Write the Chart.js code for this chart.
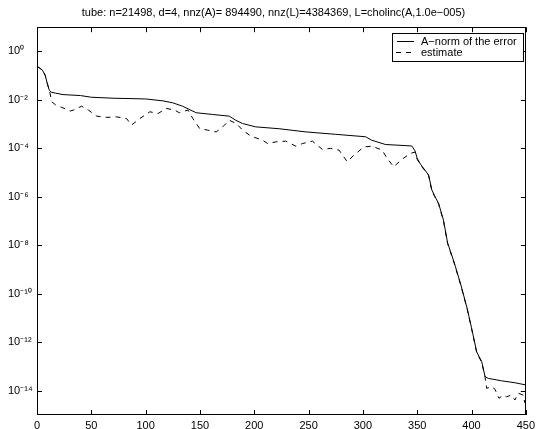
<!DOCTYPE html>
<html><head><meta charset="utf-8">
<script src="https://cdn.jsdelivr.net/npm/chart.js@4/dist/chart.umd.min.js"></script>
<style>html,body{margin:0;padding:0;background:#fff}</style>
</head><body>
<canvas id="c" width="539" height="429"></canvas>
<script>
const titleText = "tube: n=21498, d=4, nnz(A)= 894490, nnz(L)=4384369, L=cholinc(A,1.0e\u2212005)";
const legendLabels = ["A\u2212norm of the error", "estimate"];
const xTicks = [0, 50, 100, 150, 200, 250, 300, 350, 400, 450];
const yTickExponents = [0, -2, -4, -6, -8, -10, -12, -14];

// A-norm of the error: iteration and log10(value)
const errorIter = [0, 5, 7.5, 9.4, 11.3, 13, 17, 24, 40, 50, 70, 100, 116, 125, 134, 140, 146.6, 161.6, 177, 183, 189, 201, 223, 247.5, 275, 302.5, 308, 320.8, 345, 348, 350, 353, 360.5, 363.5, 366, 369.7, 374.2, 378, 384, 390, 396, 400, 404.8, 409.4, 412.5, 415.5, 427.7, 440, 450];
const errorLog10 = [-0.61, -0.77, -0.98, -1.31, -1.6, -1.68, -1.72, -1.78, -1.82, -1.89, -1.93, -1.96, -2.04, -2.12, -2.26, -2.39, -2.53, -2.6, -2.67, -2.84, -2.97, -3.11, -3.19, -3.32, -3.42, -3.52, -3.66, -3.84, -3.9, -4.1, -4.41, -4.65, -5.1, -5.72, -5.95, -6.27, -6.96, -7.9, -8.7, -9.6, -10.6, -11.4, -12.4, -12.8, -13.42, -13.49, -13.59, -13.67, -13.76];

// estimate: iteration and log10(value)
const estimateIter = [0, 5, 7.5, 9.4, 11.3, 13.7, 17, 22.9, 30.5, 33.6, 41, 47.3, 55, 64.2, 73.3, 82.5, 87, 94.7, 103.9, 111.5, 119, 126.8, 131, 139, 143.5, 149.7, 157.3, 165, 171, 177, 183.3, 189.4, 195.5, 198.5, 207.7, 212.3, 220, 229, 238.3, 244.4, 253.5, 262.7, 270.4, 278, 285.6, 291.7, 300.9, 308.5, 317.7, 322.3, 328.4, 336, 343.7, 348, 350, 353, 360.5, 363.5, 366, 369.7, 374.2, 378, 384, 390, 396, 400, 404.8, 409.4, 412.5, 414, 418.5, 421.6, 425.3, 429.2, 432.3, 436.3, 440, 443, 447.6, 449, 450];
const estimateLog10 = [-0.61, -0.77, -0.98, -1.31, -1.6, -2.08, -2.2, -2.31, -2.46, -2.42, -2.26, -2.42, -2.67, -2.72, -2.7, -2.77, -3.04, -2.77, -2.49, -2.56, -2.35, -2.42, -2.53, -2.42, -2.77, -3.18, -3.25, -3.32, -3.11, -2.84, -2.97, -3.25, -3.45, -3.52, -3.66, -3.8, -3.73, -3.7, -3.91, -3.8, -3.7, -4.04, -4.0, -4.07, -4.55, -4.28, -3.94, -3.91, -4.07, -4.41, -4.76, -4.45, -4.21, -4.15, -4.45, -4.68, -5.12, -5.75, -5.98, -6.3, -7.0, -7.93, -8.73, -9.63, -10.63, -11.43, -12.43, -12.83, -13.45, -13.9, -13.83, -13.94, -14.31, -14.18, -14.25, -14.18, -14.38, -14.1, -14.18, -14.49, -14.04];

const FONT = "'Liberation Sans', Arial, Helvetica, sans-serif";
const SUP = {"0":"\u2070","1":"\u00b9","2":"\u00b2","3":"\u00b3","4":"\u2074","5":"\u2075","6":"\u2076","7":"\u2077","8":"\u2078","9":"\u2079","-":"\u207b"};
function supText(n){ return String(n).split("").map(c => SUP[c]).join(""); }

const toPoints = (xs, ls) => xs.map((x, i) => ({x: x, y: Math.pow(10, ls[i])}));

const framePlugin = {
  id: "frame",
  afterLayout(chart) {
    if (chart.titleBlock) { chart.titleBlock.left = 19; chart.titleBlock.right = 528; }
  },
  afterDatasetsDraw(chart) {
    const {ctx, chartArea: {left, right, top, bottom}, scales: {x, y}} = chart;
    ctx.save();
    ctx.strokeStyle = "#000";
    ctx.lineWidth = 1;
    ctx.setLineDash([]);
    ctx.strokeRect(Math.round(left) + 0.5, Math.round(top) + 0.5, Math.round(right - left) - 1, Math.round(bottom - top) - 1);
    const tl = 5;
    ctx.beginPath();
    xTicks.forEach(v => {
      const px = Math.round(x.getPixelForValue(v)) + 0.5;
      ctx.moveTo(px, bottom); ctx.lineTo(px, bottom - tl);
      ctx.moveTo(px, top); ctx.lineTo(px, top + tl);
    });
    yTickExponents.forEach(e => {
      const py = Math.round(y.getPixelForValue(Math.pow(10, e))) + 0.5;
      ctx.moveTo(left, py); ctx.lineTo(left + tl, py);
      ctx.moveTo(right, py); ctx.lineTo(right - tl, py);
    });
    ctx.stroke();
    // legend
    const lx0 = 392, ly0 = 33, lw = 131, lh = 28;
    ctx.fillStyle = "#fff";
    ctx.fillRect(lx0, ly0, lw, lh);
    ctx.strokeRect(lx0 + 0.5, ly0 + 0.5, lw, lh);
    ctx.beginPath();
    ctx.moveTo(397, 41.5); ctx.lineTo(414, 41.5);
    ctx.stroke();
    ctx.setLineDash([5, 5]);
    ctx.beginPath();
    ctx.moveTo(396, 52.5); ctx.lineTo(414, 52.5);
    ctx.stroke();
    ctx.setLineDash([]);
    ctx.fillStyle = "#000";
    ctx.font = "11px " + FONT;
    ctx.textBaseline = "middle";
    ctx.textAlign = "left";
    ctx.fillText(legendLabels[0], 421, 41.5);
    ctx.fillText(legendLabels[1], 421, 53);
    ctx.restore();
  }
};

new Chart(document.getElementById("c"), {
  type: "line",
  data: {
    datasets: [
      {label: legendLabels[0], data: toPoints(errorIter, errorLog10), borderColor: "#000", borderWidth: 1, pointRadius: 0, tension: 0, fill: false},
      {label: legendLabels[1], data: toPoints(estimateIter, estimateLog10), borderColor: "#000", borderWidth: 1, borderDash: [5, 5], pointRadius: 0, tension: 0, fill: false}
    ]
  },
  options: {
    responsive: false,
    animation: false,
    devicePixelRatio: 1,
    layout: {padding: {left: 8, right: 11, top: 0, bottom: 0}},
    plugins: {
      legend: {display: false},
      tooltip: {enabled: false},
      title: {display: true, text: titleText, color: "#000", font: {family: FONT, size: 11, weight: "normal"}, padding: {top: 6, bottom: 8}}
    },
    scales: {
      x: {
        type: "linear", min: 0, max: 450,
        grid: {display: false, drawTicks: false}, border: {display: false},
        afterBuildTicks: s => { s.ticks = xTicks.map(v => ({value: v})); },
        afterFit: s => { s.height = 14; },
        ticks: {color: "#000", font: {family: FONT, size: 11}, padding: 4, maxRotation: 0, autoSkip: false, callback: v => String(v)}
      },
      y: {
        type: "logarithmic", min: 1e-15, max: 10,
        grid: {display: false, drawTicks: false}, border: {display: false},
        afterBuildTicks: s => { s.ticks = yTickExponents.map(e => ({value: Math.pow(10, e)})); },
        afterFit: s => { s.width = 29; },
        ticks: {color: "#000", font: {family: FONT, size: 11}, crossAlign: "far", padding: 4, autoSkip: false,
          callback: v => "10" + supText(Math.round(Math.log10(v)))}
      }
    }
  },
  plugins: [framePlugin]
});
</script>
</body></html>
